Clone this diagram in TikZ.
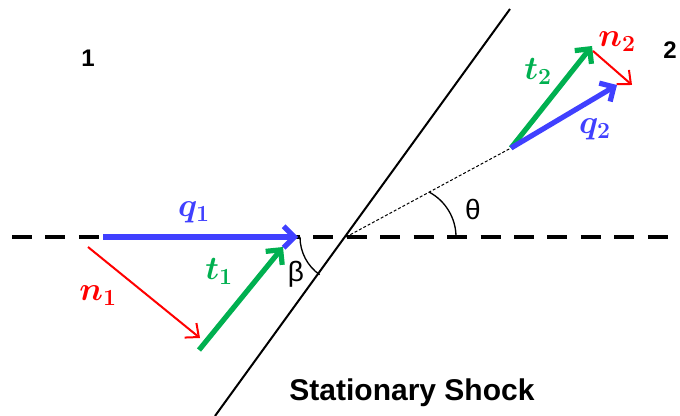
\documentclass[tikz,border=0pt]{standalone}
\usepackage{bm}
\usepackage{fontspec}
\setsansfont{Liberation Sans}
\usetikzlibrary{arrows.meta}

\definecolor{qblue}{RGB}{64,64,255}
\definecolor{tgreen}{RGB}{0,176,80}
\definecolor{nred}{RGB}{255,0,0}

\tikzset{
  fatvec/.style={line width=3.9pt, -{Straight Barb[length=8pt,width=16pt]}},
  thinvec/.style={line width=1.5pt, -{Straight Barb[length=8pt,width=14pt]}},
  veclabel/.style={font=\fontsize{23}{26}\selectfont},
  greek/.style={font=\sffamily\fontsize{21}{24}\selectfont},
  region/.style={font=\sffamily\bfseries\fontsize{18}{20}\selectfont}
}

\begin{document}
\begin{tikzpicture}[x=0.75pt, y=-0.75pt]

  % pixel grid, y down
  \useasboundingbox (0,0) rectangle (680,416);

  % 1. key points
  \coordinate (dashL) at (12,237);
  \coordinate (dashR) at (670,237);
  \coordinate (shockTop) at (510,9);
  \coordinate (shockBot) at (215,416);
  \coordinate (vertex) at (346,237);

  \coordinate (q1tail) at (103,237);
  \coordinate (q1tip)  at (298,237);
  \coordinate (n1tail) at (88,247);
  \coordinate (n1tip)  at (200,338);
  \coordinate (t1tail) at (199,350);
  \coordinate (t1tip)  at (283,247);

  \coordinate (base2)  at (511,148);
  \coordinate (t2tip)  at (592,46);
  \coordinate (q2tip)  at (617,85);
  \coordinate (n2tail) at (593,51);
  \coordinate (n2tip)  at (632,85);

  % 2. flow line and shock
  \draw[line width=3.6pt, dash pattern=on 15pt off 10.1pt] (dashL) -- (dashR);
  \draw[line width=1.5pt] (shockBot) -- (shockTop);
  \draw[line width=0.75pt, dash pattern=on 2.2pt off 1.5pt] (vertex) -- (base2);

  % angles
  \draw[line width=1pt] (300,237) arc (180:125:46);
  \draw[line width=1pt] (456,237) arc (0:-62:51);
  \node[greek] (beta)  at (296,274) {β};
  \node[greek] (theta) at (473,210) {θ};

  % 3. upstream vectors
  \draw[thinvec, nred]   (n1tail) -- (n1tip);
  \draw[fatvec, qblue]   (q1tail) -- (q1tip);
  \draw[fatvec, tgreen]  (t1tail) -- (t1tip);
  \node[veclabel, qblue]  (q1lab) at (194,212) {$\bm{q}_{\bm{1}}$};
  \node[veclabel, tgreen] (t1lab) at (219,271) {$\bm{t}_{\bm{1}}$};
  \node[veclabel, nred]   (n1lab) at (98,296)  {$\bm{n}_{\bm{1}}$};

  % 4. downstream vectors
  \draw[fatvec, tgreen]  (base2) -- (t2tip);
  \draw[fatvec, qblue]   (base2) -- (q2tip);
  \draw[thinvec, nred]   (n2tail) -- (n2tip);
  \node[veclabel, tgreen] (t2lab) at (538,71)  {$\bm{t}_{\bm{2}}$};
  \node[veclabel, qblue]  (q2lab) at (595,129) {$\bm{q}_{\bm{2}}$};
  \node[veclabel, nred]   (n2lab) at (617,42)  {$\bm{n}_{\bm{2}}$};

  % 5. region numbers and caption
  \node[region] (reg1) at (88,58) {1};
  \node[region] (reg2) at (670,50) {2};
  \node[font=\sffamily\bfseries\fontsize{22.5}{26}\selectfont] (caption) at (412,393) {Stationary Shock};

\end{tikzpicture}
\end{document}
